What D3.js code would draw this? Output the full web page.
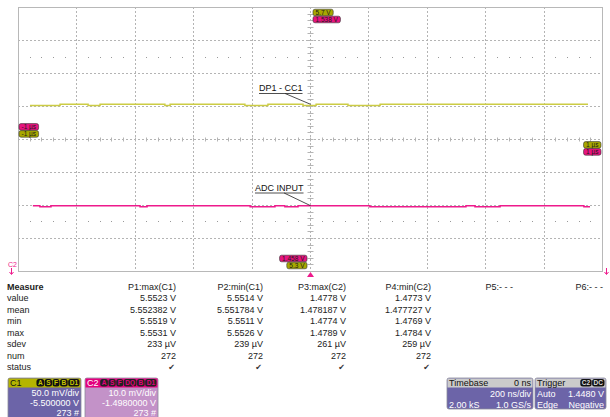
<!DOCTYPE html>
<html><head><meta charset="utf-8">
<script src="https://cdn.jsdelivr.net/npm/d3@7"></script>
<style>body{margin:0;background:#fff}svg{display:block;font-family:"Liberation Sans",Arial,sans-serif}</style>
</head><body>
<script>
// ---- data ----
const timeRange = [-1, 1];               // µs, 200 ns/div
const c1Range = [5.3, 5.7];              // V, 50 mV/div, offset -5.5 V
const c2Range = [1.458, 1.538];          // V, 10 mV/div, offset -1.498 V
const c1Times = [-0.959,-0.856,-0.760,-0.719,-0.497,-0.479,-0.223,-0.144,-0.024,0.021,0.130,0.240,0.952];
const c1Values = [5.5506,5.5526,5.5506,5.5526,5.5506,5.5526,5.5506,5.5526,5.5506,5.5526,5.5506,5.5526,5.5526];
const c2Times = [-0.949,-0.925,-0.887,-0.582,-0.558,-0.205,-0.120,-0.086,-0.041,0.205,0.534,0.565,0.651,0.938,0.959];
const c2Values = [1.4778,1.4775,1.4778,1.4775,1.4778,1.4775,1.4778,1.4775,1.4778,1.4775,1.4778,1.4775,1.4778,1.4775,1.4775];
const measHeaders = ["P1:max(C1)","P2:min(C1)","P3:max(C2)","P4:min(C2)","P5:- - -","P6:- - -"];
const rowLabels = ["value","mean","min","max","sdev","num","status"];
const p1Vals = ["5.5523 V","5.552382 V","5.5519 V","5.5531 V","233 µV","272","✔"];
const p2Vals = ["5.5514 V","5.551784 V","5.5511 V","5.5526 V","239 µV","272","✔"];
const p3Vals = ["1.4778 V","1.478187 V","1.4774 V","1.4789 V","261 µV","272","✔"];
const p4Vals = ["1.4773 V","1.477727 V","1.4769 V","1.4784 V","259 µV","272","✔"];
const c1Info = ["50.0 mV/div","-5.500000 V","273 #"];
const c2Info = ["10.0 mV/div","-1.4980000 V","273 #"];

// ---- drawing ----
const W = 610, H = 417;
const svg = d3.select("body").append("svg").attr("width", W).attr("height", H);
const L = 18, R = 602, T = 7, B = 271;
const x = d3.scaleLinear().domain(timeRange).range([L, R]);
const y1 = d3.scaleLinear().domain(c1Range).range([B, T]);
const y2 = d3.scaleLinear().domain(c2Range).range([B, T]);
const YEL = "#cccc44", PINK = "#ee1a8c", GRID = "#b4b4b4";

const xMaj = d3.range(0, 11).map(i => timeRange[0] + i * 0.2);
const yMaj = d3.range(0, 9).map(i => c1Range[0] + i * 0.05);
const g = svg.append("g");
g.selectAll(".vx").data(xMaj.slice(1, -1)).join("line")
  .attr("x1", d => Math.round(x(d)) + 0.5).attr("x2", d => Math.round(x(d)) + 0.5).attr("y1", T).attr("y2", B)
  .attr("stroke", GRID).attr("stroke-dasharray", "2,2");
g.selectAll(".hy").data(yMaj.slice(1, -1)).join("line")
  .attr("y1", d => Math.round(y1(d)) + 0.5).attr("y2", d => Math.round(y1(d)) + 0.5).attr("x1", L).attr("x2", R)
  .attr("stroke", GRID).attr("stroke-dasharray", "2,2");
g.append("rect").attr("x", L + 0.5).attr("y", T + 0.5).attr("width", R - L).attr("height", B - T)
  .attr("fill", "none").attr("stroke", "#b8b8b8");
const xMinor = d3.range(0, 51).map(i => timeRange[0] + i * 0.04);
const yMinor = d3.range(0, 41).map(i => c1Range[0] + i * 0.01);
const cy = Math.round(y1(5.5)) + 0.5, cx = Math.round(x(0)) + 0.5;
g.selectAll(".tx").data(xMinor).join("line")
  .attr("x1", d => Math.round(x(d)) + 0.5).attr("x2", d => Math.round(x(d)) + 0.5)
  .attr("y1", cy - 2).attr("y2", cy + 2).attr("stroke", GRID);
g.selectAll(".ty").data(yMinor).join("line")
  .attr("y1", d => Math.round(y1(d)) + 0.5).attr("y2", d => Math.round(y1(d)) + 0.5)
  .attr("x1", cx - 3).attr("x2", cx + 3).attr("stroke", GRID);
const dotT = xMinor.filter((d, i) => i % 5 !== 0);
[5.625, 5.375].forEach(v => {
  g.selectAll(null).data(dotT).join("rect")
    .attr("x", d => Math.round(x(d))).attr("y", Math.round(y1(v))).attr("width", 1).attr("height", 1)
    .attr("fill", "#999");
});

// traces
const line1 = d3.line().x(d => x(d[0])).y(d => y1(d[1])).curve(d3.curveStepAfter);
const line2 = d3.line().x(d => x(d[0])).y(d => y2(d[1])).curve(d3.curveStepAfter);
svg.append("path").attr("d", line1(d3.zip(c1Times, c1Values))).attr("fill","none")
  .attr("stroke", YEL).attr("stroke-width", 1.5);
svg.append("path").attr("d", line2(d3.zip(c2Times, c2Values))).attr("fill","none")
  .attr("stroke", PINK).attr("stroke-width", 1.5);

// annotations
function annot(text, tx, ty, v, ys) {
  const t = svg.append("text").attr("x", tx).attr("y", ty).attr("font-size", 9).attr("fill", "#111").text(text);
  const w = t.node().getComputedTextLength();
  svg.append("line").attr("x1", tx).attr("x2", tx + w).attr("y1", ty + 2.5).attr("y2", ty + 2.5).attr("stroke", "#222").attr("stroke-width", 0.8);
  svg.append("line").attr("x1", tx + w * 0.6).attr("y1", ty + 2.5).attr("x2", cx).attr("y2", ys(v)).attr("stroke", "#222").attr("stroke-width", 0.8);
}
annot("DP1 - CC1", 259, 91, 5.5526, y1);
annot("ADC INPUT", 255, 190.5, 1.4778, y2);

// marker badges
function marker(text, bx, by, fill, anchorRight) {
  const gg = svg.append("g");
  const r = gg.append("rect");
  const t = gg.append("text").attr("font-size", 6.5).attr("fill", "#1a1a1a").text(text);
  const w = t.node().getComputedTextLength() + 5;
  const left = anchorRight ? bx - w : bx;
  r.attr("x", left).attr("y", by).attr("width", w).attr("height", 6.6)
    .attr("rx", 2).attr("fill", fill).attr("stroke", "#333").attr("stroke-width", 0.6);
  t.attr("x", left + 2.5).attr("y", by + 5.6);
}
const fmtV = d => d3.format("")(+d.toFixed(3)) + " V";
marker(fmtV(c1Range[1]), 313, 9.2, "#a8a800", false);
marker(fmtV(c2Range[1]), 313, 16.2, "#e8137f", false);
marker(fmtV(c2Range[0]), 307, 255.2, "#e8137f", true);
marker(fmtV(c1Range[0]), 307, 262.2, "#a8a800", true);
marker(timeRange[0] + " µs", 19, 123.6, "#e8137f", false);
marker(timeRange[0] + " µs", 19, 130.6, "#a8a800", false);
marker(timeRange[1] + " µs", 601, 141.6, "#a8a800", true);
marker(timeRange[1] + " µs", 601, 148.6, "#e8137f", true);
svg.append("path").attr("d", `M${cx-3.5},277 L${cx+3.5},277 L${cx},272 Z`).attr("fill", PINK);
svg.append("text").attr("x", 8).attr("y", 267).attr("font-size", 7).attr("fill", PINK).text("C2");
svg.append("path").attr("d", "M11.5,268 V274 M9.5,272 L11.5,274.5 L13.5,272").attr("stroke", PINK).attr("fill","none");
svg.append("path").attr("d", "M606.5,268 V274 M604.5,272 L606.5,274.5 L608.5,272").attr("stroke", PINK).attr("fill","none");

// measure table
const tab = svg.append("g").attr("font-size", 9).attr("fill", "#222");
const rowY = i => 290 + i * 11.45;
tab.append("text").attr("x", 7).attr("y", rowY(0)).attr("font-weight", "bold").text("Measure");
rowLabels.forEach((r, i) => tab.append("text").attr("x", 7).attr("y", rowY(i + 1)).text(r));
const colR = [176, 263, 346, 431, 513, 603];
const cols = [p1Vals, p2Vals, p3Vals, p4Vals];
measHeaders.forEach((h, j) => tab.append("text").attr("x", colR[j]).attr("y", rowY(0)).attr("text-anchor", "end").text(h));
cols.forEach((c, j) => c.forEach((v, i) => {
  const t = tab.append("text").attr("x", colR[j] - (v === "✔" ? 1 : 0)).attr("y", rowY(i + 1)).attr("text-anchor", "end").text(v);
  if (v === "✔") t.attr("font-family", "DejaVu Sans").attr("font-size", 8).attr("fill", "#333");
}));

// bottom panels
function badges(list, rx, by, bg, fg) {
  let xr = rx;
  list.slice().reverse().forEach(b => {
    const gg = svg.append("g");
    const r = gg.append("rect");
    const t = gg.append("text").attr("font-size", 6.5).attr("font-weight", "bold").attr("fill", fg).text(b);
    const w = t.node().getComputedTextLength() + 3;
    xr -= w;
    r.attr("x", xr).attr("y", by).attr("width", w).attr("height", 7.5).attr("rx", 2.5).attr("fill", bg);
    t.attr("x", xr + 1.5).attr("y", by + 6.2);
    xr -= 0.5;
  });
}
function panel(px, pw, ph, hdrFill, bodyFill, hdrText, hdrCol, rows, y0, dy) {
  svg.append("rect").attr("x", px).attr("y", 378).attr("width", pw).attr("height", ph).attr("rx", 2)
    .attr("fill", bodyFill).attr("stroke", "#8a8a9a").attr("stroke-width", 0.8);
  svg.append("rect").attr("x", px + 0.5).attr("y", 378.5).attr("width", pw - 1).attr("height", 9).attr("fill", hdrFill);
  svg.append("text").attr("x", px + 2).attr("y", 386).attr("font-size", 9).attr("fill", hdrCol).text(hdrText);
  rows.forEach((r, i) => {
    if (r[0]) svg.append("text").attr("x", px + 2).attr("y", y0 + i * dy).attr("font-size", 9).attr("fill", "#fff").text(r[0]);
    if (r[1]) svg.append("text").attr("x", px + pw - 2).attr("y", y0 + i * dy).attr("font-size", 9).attr("fill", "#fff").attr("text-anchor", "end").text(r[1]);
  });
}
panel(8, 73, 45, "#b4b400", "#6c64a8", "C1", "#111", c1Info.map(v => ["", v]), 395.5, 10.3);
badges(["A","S","F","B","D1"], 79.5, 379, "#111", "#c8c800");
panel(85, 73, 45, "#e3007d", "#c392c8", "C2", "#fff", c2Info.map(v => ["", v]), 395.5, 10.3);
badges(["A","S","F","DQ","B","D1"], 156.5, 379, "#222", "#e3007d");
panel(447, 86, 31, "#cbcbcb", "#6c64a8", "Timebase", "#111", [["", "200 ns/div"], ["2.00 kS", "1.0 GS/s"]], 396.5, 11);
svg.append("text").attr("x", 531).attr("y", 386).attr("font-size", 9).attr("text-anchor", "end").attr("fill", "#111").text("0 ns");
panel(535, 71, 31, "#cbcbcb", "#6c64a8", "Trigger", "#111", [["Auto", "1.4480 V"], ["Edge", "Negative"]], 396.5, 11);
badges(["C2","DC"], 604.5, 379, "#111", "#ddd");
</script>
</body></html>
